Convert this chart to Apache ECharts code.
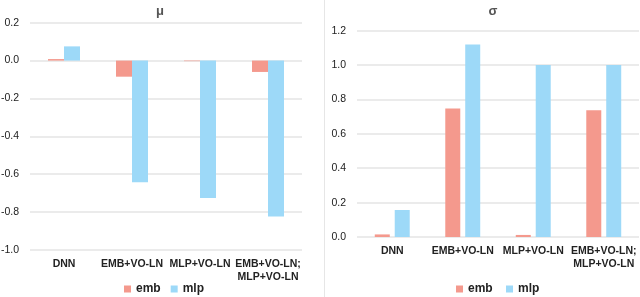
<!DOCTYPE html>
<html><head><meta charset="utf-8">
<script src="https://cdn.jsdelivr.net/npm/echarts@6/dist/echarts.min.js"></script>
<style>html,body{margin:0;padding:0;background:#fff}#c{width:640px;height:297px}</style>
</head><body><div id="c"></div>
<script>
const categories = ['DNN', 'EMB+VO-LN', 'MLP+VO-LN', 'EMB+VO-LN;\nMLP+VO-LN'];
const muEmb = [0.008, -0.085, -0.003, -0.06];
const muMlp = [0.075, -0.642, -0.725, -0.823];
const sigmaEmb = [0.015, 0.748, 0.012, 0.737];
const sigmaMlp = [0.157, 1.12, 1.0, 1.0];
const muTicks = {min: -1.0, max: 0.2, interval: 0.2};
const sigmaTicks = {min: 0, max: 1.2, interval: 0.2};

const embColor = '#f4998d';
const mlpColor = '#9dd9f8';
const font = '"Liberation Sans", Arial, sans-serif';
const chart = echarts.init(document.getElementById('c'), null, {renderer: 'canvas'});
const yLabel = {color: '#222', fontSize: 10.5, fontFamily: font, margin: 11, formatter: v => v.toFixed(1)};
const xLabel = {color: '#222', fontSize: 10.5, fontWeight: 'bold', fontFamily: font, interval: 0, lineHeight: 13};
const split = {lineStyle: {color: '#e4e4e4', width: 1.5}};
chart.setOption({
  animation: false,
  title: [
    {text: 'μ', left: 155, top: 0, textAlign: 'center', textStyle: {fontSize: 13, fontWeight: 'bold', color: '#555', fontFamily: font}},
    {text: 'σ', left: 488, top: 0, textAlign: 'center', textStyle: {fontSize: 13, fontWeight: 'bold', color: '#555', fontFamily: font}}
  ],
  legend: [
    {data: ['emb', 'mlp'], left: 119, top: 278, itemWidth: 7, itemHeight: 7, itemGap: 10, icon: 'rect',
     textStyle: {fontSize: 12, fontWeight: 'bold', color: '#222', fontFamily: font}},
    {data: ['emb ', 'mlp '], left: 451, top: 278, itemWidth: 7, itemHeight: 7, itemGap: 10, icon: 'rect',
     textStyle: {fontSize: 12, fontWeight: 'bold', color: '#222', fontFamily: font}}
  ],
  graphic: [{type: 'line', shape: {x1: 324.5, y1: 0, x2: 324.5, y2: 297}, style: {stroke: '#e6e6e6', lineWidth: 1}}],
  grid: [
    {left: 30, right: 338, top: 22.7, bottom: 47, outerBoundsMode: 'none', containLabel: false},
    {left: 357, right: 1, top: 30.7, bottom: 60, outerBoundsMode: 'none', containLabel: false}
  ],
  xAxis: [
    {type: 'category', gridIndex: 0, data: categories, axisLine: {show: false, onZero: false}, axisTick: {show: false},
     axisLabel: Object.assign({margin: 8}, xLabel)},
    {type: 'category', gridIndex: 1, data: categories, axisLine: {show: false}, axisTick: {show: false},
     axisLabel: Object.assign({margin: 8}, xLabel)}
  ],
  yAxis: [
    Object.assign({type: 'value', gridIndex: 0, axisLabel: yLabel, splitLine: split, axisLine: {show: false}, axisTick: {show: false}}, muTicks),
    Object.assign({type: 'value', gridIndex: 1, axisLabel: yLabel, splitLine: split, axisLine: {show: false}, axisTick: {show: false}}, sigmaTicks)
  ],
  series: [
    {name: 'emb', type: 'bar', xAxisIndex: 0, yAxisIndex: 0, data: muEmb, barWidth: 16, barGap: '0%', itemStyle: {color: embColor}},
    {name: 'mlp', type: 'bar', xAxisIndex: 0, yAxisIndex: 0, data: muMlp, barWidth: 16, barGap: '0%', itemStyle: {color: mlpColor}},
    {name: 'emb ', type: 'bar', xAxisIndex: 1, yAxisIndex: 1, data: sigmaEmb, barWidth: 15, barGap: '33%', itemStyle: {color: embColor}},
    {name: 'mlp ', type: 'bar', xAxisIndex: 1, yAxisIndex: 1, data: sigmaMlp, barWidth: 15, barGap: '33%', itemStyle: {color: mlpColor}}
  ]
});
</script></body></html>
